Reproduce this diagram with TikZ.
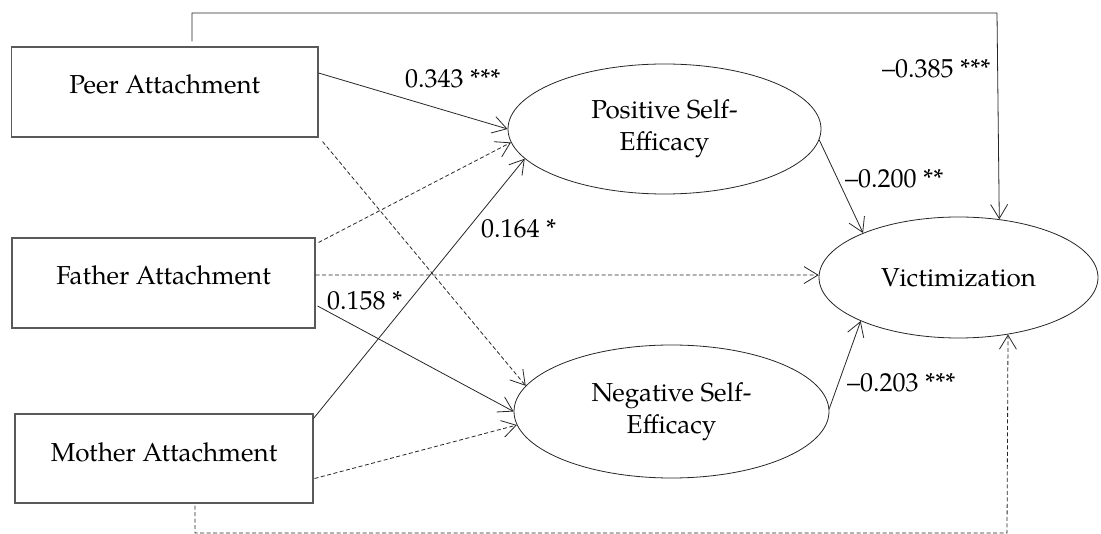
\documentclass[tikz,border=0pt]{standalone}
\usepackage{fontspec}
\setmainfont{texgyrepagella-regular.otf}
\usetikzlibrary{shapes.geometric,arrows.meta}
\tikzset{
  box/.style={draw=black!65,line width=1.1pt,rectangle,inner sep=0pt},
  oval/.style={draw=black!85,line width=0.8pt,ellipse,inner sep=0pt,align=center},
  txt/.style={inner sep=0pt},
  lab/.style={inner sep=0pt,anchor=base west},
  conn/.style={draw=black!85,line width=0.8pt,-{Straight Barb[length=14pt,width=17pt,line width=0.8pt]}},
  dconn/.style={conn,dash pattern=on 4pt off 2.5pt},
}
\begin{document}
\begin{tikzpicture}[x=1pt,y=-1pt,font=\fontsize{26}{32}\selectfont]
\useasboundingbox (0,0) rectangle (1101,534);
% boxes
\node[box,minimum width=306.5pt,minimum height=90pt] (peer) at (164.75,92) {};
\node[box,minimum width=303pt,minimum height=90pt] (father) at (163.5,283) {};
\node[box,minimum width=298pt,minimum height=89pt] (mother) at (164,458.5) {};
\node[txt] (peerT) at (164.75,84.5) {Peer Attachment};
\node[txt] (fatherT) at (163.5,275) {Father Attachment};
\node[txt] (motherT) at (164,452.5) {Mother Attachment};
% ellipses
\node[oval,minimum width=313pt,minimum height=130pt] (pos) at (664.5,129) {Positive Self-\\Efficacy};
\node[oval,minimum width=315pt,minimum height=133pt] (neg) at (671.5,411.5) {Negative Self-\\Efficacy};
\node[oval,minimum width=279pt,minimum height=121pt] (vict) at (958.5,277.5) {Victimization};
% helper coordinates
\coordinate (t1) at (192,13);
\coordinate (t2) at (997,13);
\coordinate (b1) at (195,533);
\coordinate (b2) at (1007,533);
% connectors
\draw[conn] ([yshift=19pt]peer.east) -- (pos.180);
\draw[dconn] ([xshift=4pt,yshift=-4pt]peer.south east) -- (neg.170);
\draw[dconn] ([xshift=3pt,yshift=-5pt]father.north east) -- (pos.185);
\draw[dconn] ([yshift=8pt]father.east) -- (vict.179);
\draw[conn] ([xshift=2pt,yshift=-23pt]father.east) -- (neg.180);
\draw[conn] ([yshift=-5pt]mother.north east) -- (pos.192.3);
\draw[dconn] ([xshift=1pt,yshift=-20pt]mother.east) -- (neg.185.8);
\draw[conn] (pos.-4.8) -- (vict.155.5);
\draw[conn] (neg.1) -- (vict.204.5);
\draw[conn] ([yshift=5pt]peer.north -| t1) -- (t1) -- (t2) -- (vict.55);
\draw[dconn] ([yshift=-2pt]mother.south -| b1) -- (b1) -- (b2) -- (vict.-49.5);
% labels
\node[lab] (l1) at (405,88) {0.343 ***};
\node[lab] (l2) at (882,77.5) {–0.385 ***};
\node[lab] (l3) at (845,188) {–0.200 **};
\node[lab] (l4) at (481,238) {0.164 *};
\node[lab] (l5) at (327,310) {0.158 *};
\node[lab] (l6) at (847,392) {–0.203 ***};
\end{tikzpicture}
\end{document}
